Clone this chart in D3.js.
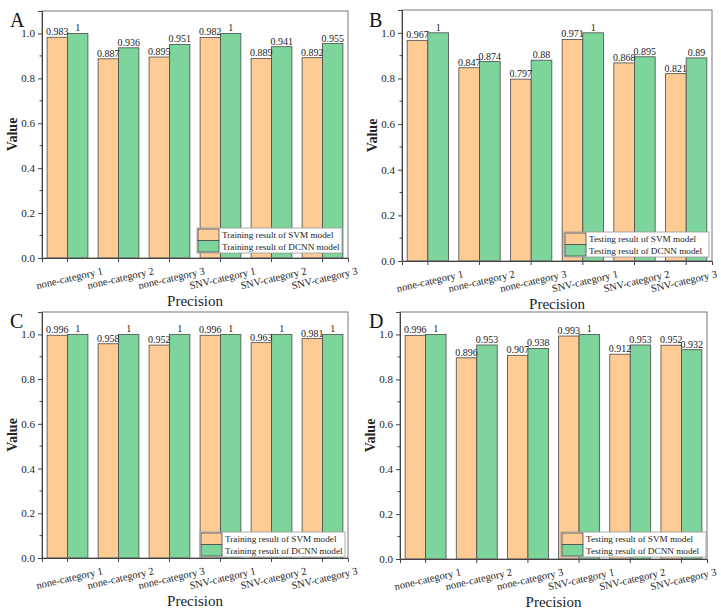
<!DOCTYPE html>
<html><head><meta charset="utf-8">
<script src="https://cdn.jsdelivr.net/npm/d3@7"></script>
<style>body{margin:0;background:#fff}svg{display:block}text{font-family:"Liberation Serif","Times New Roman",serif}</style>
</head><body>
<svg id="c" width="721" height="610" font-family="Liberation Serif"></svg>
<script>
const categories = ["none-category 1","none-category 2","none-category 3","SNV-category 1","SNV-category 2","SNV-category 3"];
const svmA = [0.983,0.887,0.895,0.982,0.889,0.892];
const dcnnA = [1,0.936,0.951,1,0.941,0.955];
const svmB = [0.967,0.847,0.797,0.971,0.868,0.821];
const dcnnB = [1,0.874,0.88,1,0.895,0.89];
const svmC = [0.996,0.958,0.952,0.996,0.963,0.981];
const dcnnC = [1,1,1,1,1,1];
const svmD = [0.996,0.896,0.907,0.993,0.912,0.952];
const dcnnD = [1,0.953,0.938,1,0.953,0.932];
const yTicks = [0,0.2,0.4,0.6,0.8,1.0];
const legendTrain = ["Training result of SVM model","Training result of DCNN model"];
const legendTest = ["Testing result of SVM model","Testing result of DCNN model"];

const colors = ["#FECB94","#7DD59B"];
const svg = d3.select("#c");

const panels = [
  {letter:"A", svm:svmA, dcnn:dcnnA, legend:legendTrain, l:42, r:348, t:11, b:258, lx:197, ly:228, px:10, py:27},
  {letter:"B", svm:svmB, dcnn:dcnnB, legend:legendTest, l:402, r:712, t:10, b:261, lx:564, ly:232, px:369, py:27},
  {letter:"C", svm:svmC, dcnn:dcnnC, legend:legendTrain, l:42, r:348, t:312, b:558, lx:200, ly:532, px:10, py:328},
  {letter:"D", svm:svmD, dcnn:dcnnD, legend:legendTest, l:400, r:707, t:312, b:559, lx:561, ly:532, px:369, py:328}
];

panels.forEach(p => {
  const g = svg.append("g");
  const x = d3.scaleBand().domain(categories).range([p.l,p.r]).paddingInner(0.2).paddingOuter(0.1);
  const x1 = d3.scaleBand().domain([0,1]).range([0,x.bandwidth()]);
  const y = d3.scaleLinear().domain([0,1.1]).range([p.b,p.t]);

  const series = [p.svm,p.dcnn];
  series.forEach((vals,si) => {
    g.selectAll(null).data(vals).enter().append("rect")
      .attr("x",(d,i)=>x(categories[i])+x1(si))
      .attr("y",d=>y(d))
      .attr("width",x1.bandwidth())
      .attr("height",d=>y(0)-y(d))
      .attr("fill",colors[si])
      .attr("stroke","#4a4a4a").attr("stroke-width",0.8);
  });
  series.forEach((vals,si) => {
    g.selectAll(null).data(vals).enter().append("text")
      .attr("x",(d,i)=>x(categories[i])+x1(si)+x1.bandwidth()/2)
      .attr("y",d=>y(d)-2)
      .attr("text-anchor","middle")
      .attr("font-size",10).attr("fill","#222")
      .text(d=>String(d));
  });

  g.append("rect").attr("x",p.l).attr("y",p.t).attr("width",p.r-p.l).attr("height",p.b-p.t)
    .attr("fill","none").attr("stroke","#777").attr("stroke-width",1);

  const ya = d3.axisLeft(y).tickValues(yTicks).tickFormat(d3.format(".1f")).tickSize(4).tickPadding(3);
  const yg = g.append("g").attr("transform",`translate(${p.l},0)`).call(ya).attr("font-family","Liberation Serif");
  yg.select(".domain").attr("stroke","#444");
  yg.selectAll(".tick line").attr("stroke","#444");
  yg.selectAll("text").attr("font-size",11).attr("fill","#222");
  const minor = [0.1,0.3,0.5,0.7,0.9];
  g.selectAll(null).data(minor).enter().append("line")
    .attr("x1",p.l-2.5).attr("x2",p.l).attr("y1",d=>y(d)).attr("y2",d=>y(d)).attr("stroke","#444");

  const xa = d3.axisBottom(x).tickSize(4).tickFormat("");
  const xg = g.append("g").attr("transform",`translate(0,${p.b})`).call(xa);
  xg.select(".domain").attr("stroke","#444");
  xg.selectAll(".tick line").attr("stroke","#444");
  g.selectAll(null).data(categories).enter().append("text")
    .attr("transform",d=>`translate(${x(d)+x.bandwidth()/2+2},${p.b+20}) rotate(-13)`)
    .attr("text-anchor","middle").attr("dy","0.35em")
    .attr("font-size",10.5).attr("fill","#222").text(d=>d)
    .each(function(d){
      const bb = this.getBoundingClientRect();
      if (bb.right > 718) {
        const cx = x(d)+x.bandwidth()/2+2 - (bb.right-718);
        d3.select(this).attr("transform",`translate(${cx},${p.b+20}) rotate(-13)`);
      }
    });

  g.append("text").attr("x",(p.l+p.r)/2).attr("y",p.b+48).attr("text-anchor","middle")
    .attr("font-size",15).attr("fill","#222").text("Precision");
  g.append("text").attr("transform",`translate(${p.l-30},${(p.t+p.b)/2}) rotate(-90)`)
    .attr("text-anchor","middle").attr("dy","0.35em").attr("font-size",14).attr("font-weight","bold")
    .attr("fill","#222").text("Value");

  g.append("text").attr("x",p.px).attr("y",p.py).attr("font-size",20).attr("fill","#111").text(p.letter);

  const lw=145, lh=25;
  const lg = g.append("g").attr("transform",`translate(${p.lx},${p.ly})`);
  lg.append("rect").attr("width",lw).attr("height",lh).attr("fill","#fff").attr("stroke","#999").attr("stroke-width",0.8);
  p.legend.forEach((t,i)=>{
    lg.append("rect").attr("x",1).attr("y",1+i*11.5).attr("width",21).attr("height",11.5)
      .attr("fill",colors[i]).attr("stroke","#4a4a4a").attr("stroke-width",0.8);
    lg.append("text").attr("x",25).attr("y",7+i*11.5).attr("dy","0.35em").attr("font-size",9.2)
      .attr("fill","#222").text(t);
  });
});
</script>
</body></html>
